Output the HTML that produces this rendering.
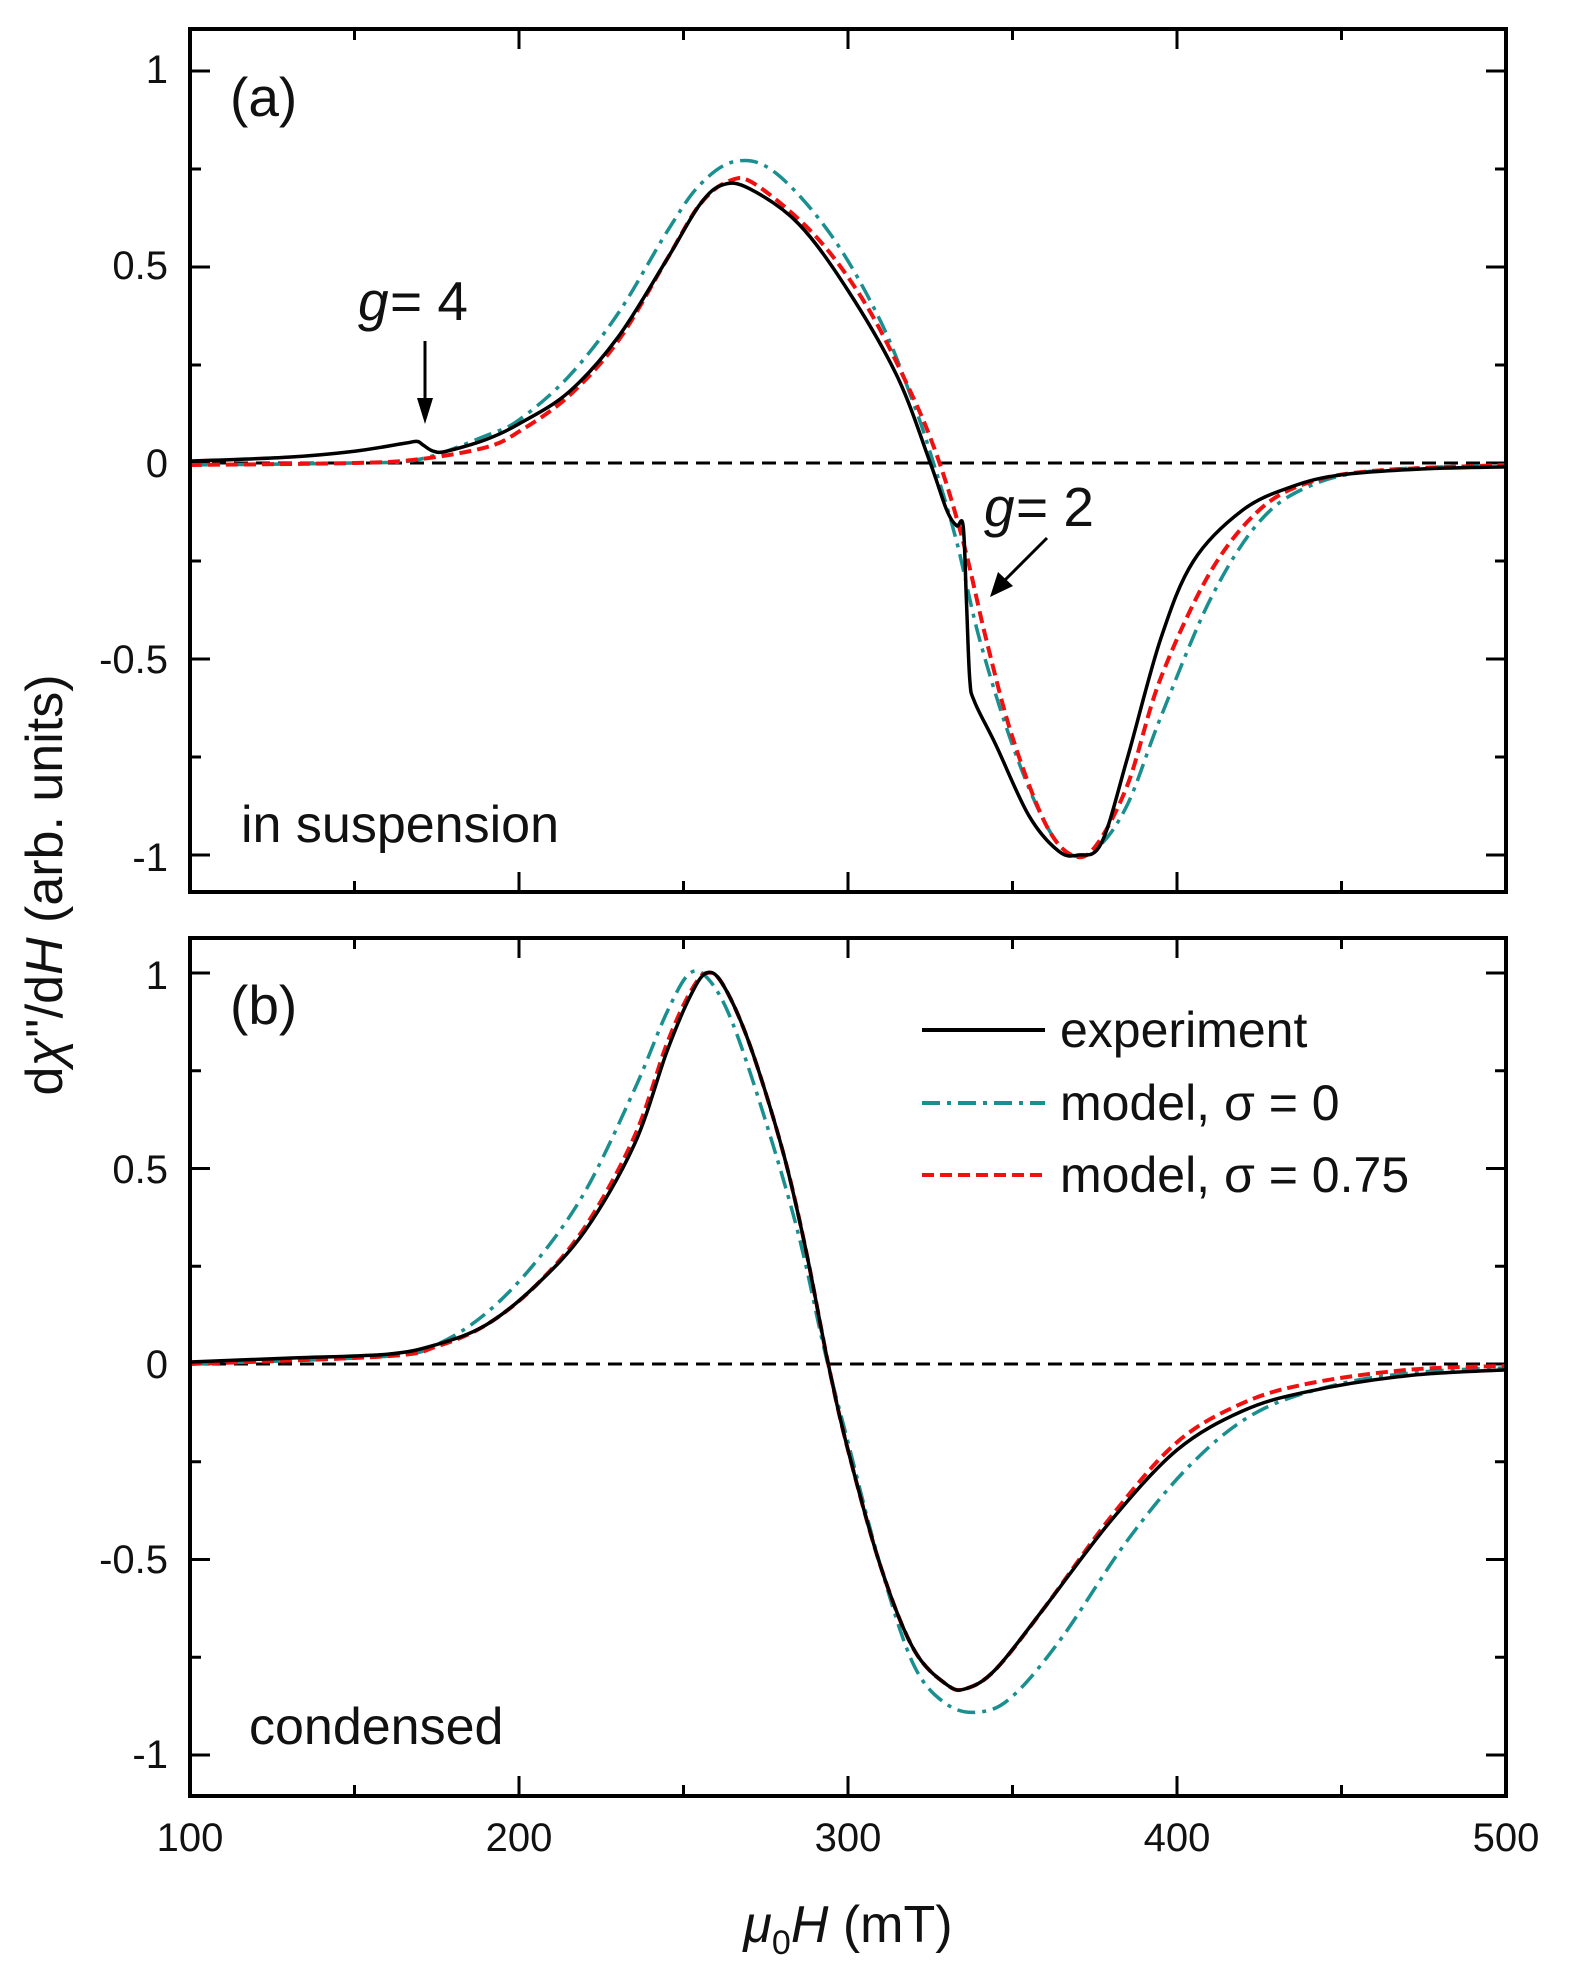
<!DOCTYPE html>
<html><head><meta charset="utf-8"><style>
html,body{margin:0;padding:0;background:#fff;}
svg text{font-family:"Liberation Sans",sans-serif;fill:#111;}
</style></head><body>
<svg id="s" width="1571" height="1980" viewBox="0 0 1571 1980" xmlns="http://www.w3.org/2000/svg">
<g id="g"></g>
<g font-size="40">
<text x="168" y="83" text-anchor="end">1</text>
<text x="168" y="279" text-anchor="end">0.5</text>
<text x="168" y="477" text-anchor="end">0</text>
<text x="168" y="673" text-anchor="end">-0.5</text>
<text x="168" y="871" text-anchor="end">-1</text>
<text x="168" y="989" text-anchor="end">1</text>
<text x="168" y="1183" text-anchor="end">0.5</text>
<text x="168" y="1378" text-anchor="end">0</text>
<text x="168" y="1573" text-anchor="end">-0.5</text>
<text x="168" y="1768" text-anchor="end">-1</text>
<text x="190" y="1851" text-anchor="middle">100</text>
<text x="519" y="1851" text-anchor="middle">200</text>
<text x="848" y="1851" text-anchor="middle">300</text>
<text x="1177" y="1851" text-anchor="middle">400</text>
<text x="1506" y="1851" text-anchor="middle">500</text>
</g>
<text x="848" y="1942" font-size="52" text-anchor="middle"><tspan font-style="italic">μ</tspan><tspan font-size="34" dy="12">0</tspan><tspan font-style="italic" dy="-12">H</tspan> (mT)</text>
<text transform="translate(62,885) rotate(-90)" font-size="52" text-anchor="middle">d<tspan font-style="italic">χ</tspan>''/d<tspan font-style="italic">H</tspan> (arb. units)</text>
<g font-size="55">
<text x="230" y="116">(a)</text>
<text x="230" y="1024">(b)</text>
<text x="984" y="526" font-style="italic">g</text><text x="1016" y="526"> = 2</text>
<text x="358" y="320" font-style="italic">g</text><text x="390" y="320"> = 4</text>
</g>
<g font-size="52">
<text x="241" y="842">in suspension</text>
<text x="249" y="1744">condensed</text>
</g>
<g font-size="50">
<text x="1060" y="1047">experiment</text>
<text x="1060" y="1120">model, σ = 0</text>
<text x="1060" y="1192">model, σ = 0.75</text>
</g>
<line x1="922" y1="1030" x2="1045" y2="1030" stroke="#000" stroke-width="4"/>
<line x1="922" y1="1103" x2="1045" y2="1103" stroke="#1a8f8f" stroke-width="4" stroke-dasharray="18,7,4,7"/>
<line x1="922" y1="1175" x2="1045" y2="1175" stroke="#f01010" stroke-width="4" stroke-dasharray="12,6"/>
<line x1="425" y1="341" x2="425" y2="405" stroke="#000" stroke-width="3"/>
<polygon points="417,398 433,398 425,424" fill="#000"/>
<line x1="1047" y1="538" x2="1005" y2="580" stroke="#000" stroke-width="3"/>
<polygon points="990,597 998,572 1013,586" fill="#000"/>
</svg>
<script>
var g=document.getElementById('g');var NS="http://www.w3.org/2000/svg";
function el(t,a){var e=document.createElementNS(NS,t);for(var k in a)e.setAttribute(k,a[k]);g.appendChild(e);return e;}
function X(x){return 190+(x-100)*3.29;}
function path(pts,Y,attrs){var P=pts.map(function(p){return [X(p[0]),Y(p[1])];});
var d="M"+P[0][0].toFixed(1)+","+P[0][1].toFixed(1);
for(var i=0;i<P.length-1;i++){var p0=P[i-1]||P[i],p1=P[i],p2=P[i+1],p3=P[i+2]||P[i+1];
var c1=[p1[0]+(p2[0]-p0[0])/6,p1[1]+(p2[1]-p0[1])/6],c2=[p2[0]-(p3[0]-p1[0])/6,p2[1]-(p3[1]-p1[1])/6];
d+="C"+c1[0].toFixed(1)+","+c1[1].toFixed(1)+" "+c2[0].toFixed(1)+","+c2[1].toFixed(1)+" "+p2[0].toFixed(1)+","+p2[1].toFixed(1);}
attrs.d=d;attrs.fill="none";el("path",attrs);}
function Ya(y){return 463-392*y;}function Yb(y){return 1364-391*y;}
function frame(top,bot,Y){
el("line",{x1:190,y1:Y(0),x2:1506,y2:Y(0),stroke:"#000","stroke-width":3,"stroke-dasharray":"14,8"});
for(var v=-1;v<=1.001;v+=0.25){var y=Y(v);if(y<top||y>bot)continue;var L=(Math.abs(v*2-Math.round(v*2))<0.01)?20:11;
el("line",{x1:190,y1:y,x2:190+L,y2:y,stroke:"#000","stroke-width":3});
el("line",{x1:1506,y1:y,x2:1506-L,y2:y,stroke:"#000","stroke-width":3});}
for(var x=100;x<=500;x+=50){var L=(x%100==0)?20:11;
el("line",{x1:X(x),y1:bot,x2:X(x),y2:bot-L,stroke:"#000","stroke-width":3});
el("line",{x1:X(x),y1:top,x2:X(x),y2:top+L,stroke:"#000","stroke-width":3});}
}
var ea=[[100,0.005],[130,0.015],[150,0.03],[165,0.05],[169,0.055],[171,0.045],[174,0.03],[178,0.03],[190,0.06],[200,0.1],[215,0.18],[230,0.32],[245,0.52],[255,0.66],[262,0.71],[270,0.70],[285,0.61],[300,0.44],[315,0.22],[325,0.0],[330,-0.12],[333,-0.16],[335,-0.16],[336,-0.35],[337,-0.55],[338.5,-0.61],[345,-0.72],[355,-0.9],[364,-0.99],[370,-1.0],[377,-0.97],[385,-0.75],[395,-0.45],[405,-0.25],[420,-0.12],[435,-0.06],[450,-0.03],[475,-0.015],[500,-0.01]];
var ra=[[100,-0.005],[150,0],[170,0.01],[190,0.04],[200,0.08],[215,0.17],[230,0.31],[245,0.52],[255,0.66],[264,0.72],[272,0.71],[290,0.58],[305,0.41],[318,0.2],[327,0.02],[335,-0.2],[342,-0.45],[350,-0.7],[360,-0.92],[368,-1.0],[375,-0.98],[385,-0.82],[395,-0.55],[410,-0.28],[425,-0.12],[440,-0.05],[460,-0.02],[500,-0.005]];
var ta=[[100,-0.005],[150,0],[170,0.01],[190,0.07],[200,0.11],[215,0.22],[230,0.38],[245,0.59],[255,0.71],[266,0.77],[278,0.74],[295,0.58],[310,0.36],[320,0.15],[326,0.0],[333,-0.2],[340,-0.45],[350,-0.72],[360,-0.92],[368,-1.0],[376,-0.98],[385,-0.87],[395,-0.65],[410,-0.35],[425,-0.15],[440,-0.06],[460,-0.02],[500,-0.005]];
var eb=[[100,0.005],[130,0.015],[160,0.025],[175,0.05],[190,0.1],[205,0.2],[220,0.34],[235,0.56],[245,0.8],[252,0.94],[257,1.0],[262,0.97],[270,0.82],[280,0.55],[287,0.3],[294,0.0],[300,-0.22],[310,-0.52],[320,-0.73],[330,-0.82],[336,-0.83],[345,-0.78],[360,-0.62],[380,-0.4],[400,-0.22],[420,-0.12],[440,-0.07],[470,-0.03],[500,-0.015]];
var rb=[[100,0.0],[160,0.02],[175,0.045],[190,0.1],[205,0.2],[220,0.35],[235,0.58],[245,0.82],[252,0.95],[257,1.0],[262,0.97],[270,0.82],[280,0.55],[287,0.3],[294,0.0],[300,-0.22],[310,-0.52],[320,-0.73],[330,-0.82],[336,-0.83],[345,-0.78],[360,-0.62],[380,-0.39],[400,-0.2],[420,-0.1],[440,-0.05],[470,-0.015],[500,-0.005]];
var tb=[[100,0.0],[160,0.02],[175,0.05],[190,0.13],[205,0.26],[220,0.44],[235,0.7],[245,0.9],[252,1.0],[258,0.98],[265,0.87],[275,0.62],[285,0.33],[293,0.03],[300,-0.2],[310,-0.52],[320,-0.77],[330,-0.87],[340,-0.89],[350,-0.85],[365,-0.7],[385,-0.45],[405,-0.25],[425,-0.12],[450,-0.05],[475,-0.02],[500,-0.01]];
frame(29,892,Ya);frame(938,1796,Yb);
var teal={stroke:"#1a8f8f","stroke-width":3.5,"stroke-dasharray":"18,7,4,7"};
var red={stroke:"#f01010","stroke-width":4,"stroke-dasharray":"12,6"};
var blk={stroke:"#000","stroke-width":3.5};
function cp(o){var r={};for(var k in o)r[k]=o[k];return r;}
path(ta,Ya,cp(teal));path(ra,Ya,cp(red));path(ea,Ya,cp(blk));
path(tb,Yb,cp(teal));path(rb,Yb,cp(red));path(eb,Yb,cp(blk));
el("rect",{x:190,y:29,width:1316,height:863,fill:"none",stroke:"#000","stroke-width":4});
el("rect",{x:190,y:938,width:1316,height:858,fill:"none",stroke:"#000","stroke-width":4});
</script>
</body></html>
